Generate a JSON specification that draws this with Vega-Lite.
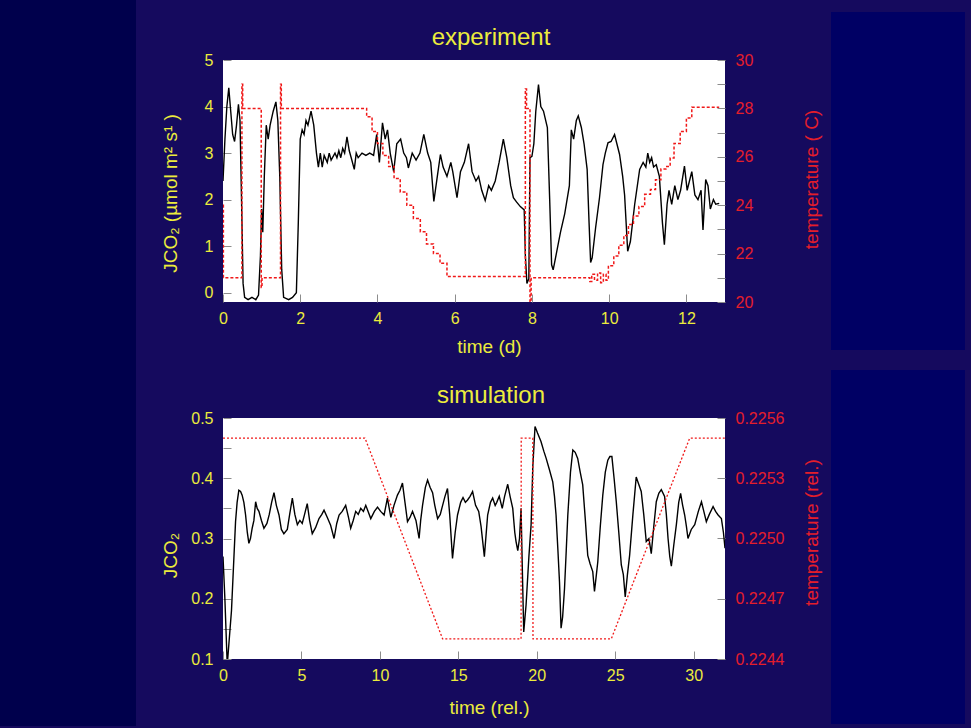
{
  "$schema": "https://vega.github.io/schema/vega-lite/v6.json",
  "autosize": {"type": "none"},
  "padding": {"left": 60, "top": 60, "right": 911, "bottom": 668},
  "background": "#150a5e",
  "bounds": "flush",
  "align": "each",
  "columns": 3,
  "spacing": {"row": 116, "column": 154},
  "datasets": {
    "expJ": [
      {"t":0.0,"J":2.4},{"t":0.05,"J":3.3},{"t":0.1,"J":4.0},{"t":0.15,"J":4.4},{"t":0.2,"J":3.9},{"t":0.25,"J":3.4},{"t":0.3,"J":3.25},{"t":0.35,"J":3.6},{"t":0.4,"J":4.05},{"t":0.44,"J":3.7},{"t":0.48,"J":2.0},{"t":0.52,"J":0.2},{"t":0.56,"J":-0.1},{"t":0.65,"J":-0.15},{"t":0.75,"J":-0.1},{"t":0.85,"J":-0.15},{"t":0.92,"J":-0.05},{"t":0.97,"J":0.8},{"t":1.0,"J":1.8},{"t":1.03,"J":1.3},{"t":1.07,"J":2.5},{"t":1.12,"J":3.6},{"t":1.17,"J":3.3},{"t":1.22,"J":3.6},{"t":1.3,"J":3.9},{"t":1.37,"J":4.1},{"t":1.42,"J":3.7},{"t":1.47,"J":2.5},{"t":1.52,"J":0.5},{"t":1.57,"J":-0.1},{"t":1.7,"J":-0.15},{"t":1.8,"J":-0.1},{"t":1.9,"J":0.0},{"t":1.95,"J":1.5},{"t":2.0,"J":3.3},{"t":2.05,"J":3.5},{"t":2.1,"J":3.4},{"t":2.15,"J":3.7},{"t":2.2,"J":3.6},{"t":2.28,"J":3.9},{"t":2.35,"J":3.6},{"t":2.42,"J":3.0},{"t":2.47,"J":2.7},{"t":2.52,"J":3.0},{"t":2.57,"J":2.7},{"t":2.62,"J":2.95},{"t":2.7,"J":2.8},{"t":2.75,"J":3.0},{"t":2.8,"J":2.85},{"t":2.9,"J":3.0},{"t":2.95,"J":2.9},{"t":3.0,"J":3.05},{"t":3.05,"J":2.9},{"t":3.1,"J":3.1},{"t":3.15,"J":3.0},{"t":3.21,"J":3.35},{"t":3.27,"J":3.05},{"t":3.32,"J":2.9},{"t":3.4,"J":2.65},{"t":3.45,"J":3.0},{"t":3.5,"J":2.9},{"t":3.6,"J":3.0},{"t":3.7,"J":2.95},{"t":3.8,"J":3.0},{"t":3.9,"J":2.95},{"t":3.98,"J":3.4},{"t":4.05,"J":2.8},{"t":4.13,"J":3.65},{"t":4.2,"J":3.3},{"t":4.26,"J":3.5},{"t":4.33,"J":3.0},{"t":4.42,"J":2.6},{"t":4.5,"J":3.2},{"t":4.6,"J":3.3},{"t":4.68,"J":3.0},{"t":4.75,"J":2.9},{"t":4.8,"J":2.68},{"t":4.9,"J":3.0},{"t":5.0,"J":2.85},{"t":5.1,"J":3.0},{"t":5.2,"J":3.4},{"t":5.3,"J":3.0},{"t":5.38,"J":2.8},{"t":5.46,"J":1.96},{"t":5.55,"J":2.5},{"t":5.63,"J":2.97},{"t":5.7,"J":2.7},{"t":5.8,"J":2.5},{"t":5.9,"J":2.8},{"t":5.95,"J":2.6},{"t":6.06,"J":2.04},{"t":6.15,"J":2.6},{"t":6.25,"J":2.8},{"t":6.36,"J":3.2},{"t":6.45,"J":2.6},{"t":6.55,"J":2.4},{"t":6.62,"J":2.5},{"t":6.7,"J":2.2},{"t":6.79,"J":1.98},{"t":6.88,"J":2.3},{"t":6.95,"J":2.2},{"t":7.05,"J":2.4},{"t":7.15,"J":2.8},{"t":7.26,"J":3.3},{"t":7.35,"J":2.9},{"t":7.45,"J":2.3},{"t":7.52,"J":2.04},{"t":7.6,"J":1.95},{"t":7.7,"J":1.85},{"t":7.8,"J":1.78},{"t":7.83,"J":0.8},{"t":7.87,"J":0.2},{"t":7.92,"J":0.3},{"t":7.95,"J":2.9},{"t":8.0,"J":2.93},{"t":8.05,"J":3.2},{"t":8.1,"J":3.9},{"t":8.17,"J":4.47},{"t":8.23,"J":4.0},{"t":8.3,"J":3.9},{"t":8.4,"J":3.55},{"t":8.46,"J":2.0},{"t":8.51,"J":0.6},{"t":8.55,"J":0.49},{"t":8.6,"J":0.7},{"t":8.74,"J":1.3},{"t":8.85,"J":1.7},{"t":8.97,"J":2.3},{"t":9.02,"J":3.5},{"t":9.08,"J":3.3},{"t":9.15,"J":3.7},{"t":9.2,"J":3.8},{"t":9.28,"J":3.55},{"t":9.35,"J":3.2},{"t":9.43,"J":2.65},{"t":9.48,"J":1.5},{"t":9.52,"J":0.65},{"t":9.56,"J":0.75},{"t":9.65,"J":1.4},{"t":9.75,"J":2.04},{"t":9.84,"J":2.75},{"t":9.9,"J":3.0},{"t":9.97,"J":3.22},{"t":10.05,"J":3.25},{"t":10.14,"J":3.4},{"t":10.2,"J":3.2},{"t":10.27,"J":2.97},{"t":10.35,"J":2.5},{"t":10.4,"J":2.1},{"t":10.48,"J":0.89},{"t":10.55,"J":1.1},{"t":10.66,"J":1.89},{"t":10.79,"J":2.65},{"t":10.88,"J":2.8},{"t":10.95,"J":2.7},{"t":11.0,"J":3.0},{"t":11.05,"J":2.8},{"t":11.1,"J":2.9},{"t":11.15,"J":2.7},{"t":11.22,"J":2.75},{"t":11.3,"J":2.5},{"t":11.38,"J":1.5},{"t":11.43,"J":1.03},{"t":11.5,"J":1.9},{"t":11.55,"J":2.2},{"t":11.62,"J":1.9},{"t":11.7,"J":2.3},{"t":11.78,"J":2.0},{"t":11.85,"J":2.2},{"t":11.95,"J":2.72},{"t":12.02,"J":2.2},{"t":12.08,"J":2.4},{"t":12.14,"J":2.6},{"t":12.22,"J":2.1},{"t":12.3,"J":2.0},{"t":12.38,"J":2.2},{"t":12.43,"J":1.35},{"t":12.5,"J":2.43},{"t":12.56,"J":2.3},{"t":12.62,"J":1.8},{"t":12.7,"J":2.0},{"t":12.76,"J":1.9},{"t":12.85,"J":1.92}
    ],
    "expT": [
      {"t":0,"T":24.0},{"t":0.01,"T":21.0},{"t":0.49,"T":29.0},{"t":0.51,"T":28.0},{"t":0.99,"T":20.6},{"t":1.01,"T":21.0},{"t":1.49,"T":29.0},{"t":1.51,"T":28.0},{"t":3.72,"T":27.65},{"t":3.86,"T":27.05},{"t":4.0,"T":26.55},{"t":4.14,"T":26.05},{"t":4.29,"T":25.6},{"t":4.43,"T":25.1},{"t":4.59,"T":24.55},{"t":4.76,"T":24.0},{"t":4.93,"T":23.45},{"t":5.11,"T":22.9},{"t":5.27,"T":22.4},{"t":5.45,"T":22.0},{"t":5.62,"T":21.6},{"t":5.8,"T":21.05},{"t":7.83,"T":28.8},{"t":7.86,"T":28.0},{"t":7.95,"T":20.0},{"t":7.98,"T":21.0},{"t":9.5,"T":20.85},{"t":9.55,"T":21.15},{"t":9.62,"T":20.9},{"t":9.7,"T":21.2},{"t":9.78,"T":20.8},{"t":9.85,"T":21.15},{"t":9.92,"T":20.9},{"t":9.98,"T":21.5},{"t":10.12,"T":21.9},{"t":10.25,"T":22.35},{"t":10.38,"T":22.75},{"t":10.5,"T":23.2},{"t":10.63,"T":23.55},{"t":10.77,"T":23.95},{"t":10.92,"T":24.45},{"t":11.07,"T":24.65},{"t":11.2,"T":25.05},{"t":11.34,"T":25.5},{"t":11.47,"T":25.6},{"t":11.58,"T":25.95},{"t":11.68,"T":26.55},{"t":11.84,"T":27.05},{"t":12.0,"T":27.6},{"t":12.14,"T":28.05},{"t":12.85,"T":28.05}
    ],
    "simJ": [
      {"t":0,"J":0.27},{"t":0.12,"J":0.2},{"t":0.27,"J":0.09},{"t":0.54,"J":0.18},{"t":0.8,"J":0.328},{"t":0.9,"J":0.36},{"t":1.01,"J":0.38},{"t":1.12,"J":0.378},{"t":1.22,"J":0.372},{"t":1.33,"J":0.36},{"t":1.44,"J":0.339},{"t":1.55,"J":0.31},{"t":1.65,"J":0.292},{"t":1.75,"J":0.3},{"t":1.86,"J":0.317},{"t":1.97,"J":0.33},{"t":2.08,"J":0.361},{"t":2.18,"J":0.35},{"t":2.29,"J":0.345},{"t":2.45,"J":0.33},{"t":2.61,"J":0.317},{"t":2.8,"J":0.325},{"t":2.95,"J":0.34},{"t":3.1,"J":0.36},{"t":3.25,"J":0.376},{"t":3.4,"J":0.355},{"t":3.57,"J":0.339},{"t":3.72,"J":0.315},{"t":3.88,"J":0.308},{"t":4.1,"J":0.315},{"t":4.25,"J":0.34},{"t":4.42,"J":0.367},{"t":4.58,"J":0.34},{"t":4.74,"J":0.323},{"t":4.9,"J":0.33},{"t":5.05,"J":0.325},{"t":5.2,"J":0.34},{"t":5.37,"J":0.358},{"t":5.52,"J":0.33},{"t":5.69,"J":0.308},{"t":5.9,"J":0.318},{"t":6.12,"J":0.333},{"t":6.3,"J":0.34},{"t":6.44,"J":0.347},{"t":6.65,"J":0.335},{"t":6.86,"J":0.322},{"t":7.08,"J":0.3},{"t":7.25,"J":0.325},{"t":7.4,"J":0.339},{"t":7.6,"J":0.345},{"t":7.82,"J":0.355},{"t":8.0,"J":0.335},{"t":8.14,"J":0.317},{"t":8.3,"J":0.33},{"t":8.46,"J":0.345},{"t":8.62,"J":0.34},{"t":8.78,"J":0.35},{"t":8.95,"J":0.345},{"t":9.1,"J":0.355},{"t":9.25,"J":0.345},{"t":9.42,"J":0.333},{"t":9.65,"J":0.345},{"t":9.85,"J":0.352},{"t":10.05,"J":0.345},{"t":10.27,"J":0.339},{"t":10.48,"J":0.367},{"t":10.7,"J":0.335},{"t":10.9,"J":0.355},{"t":11.12,"J":0.372},{"t":11.28,"J":0.38},{"t":11.44,"J":0.392},{"t":11.6,"J":0.36},{"t":11.76,"J":0.328},{"t":11.92,"J":0.335},{"t":12.08,"J":0.345},{"t":12.3,"J":0.33},{"t":12.5,"J":0.3},{"t":12.6,"J":0.33},{"t":12.72,"J":0.355},{"t":12.9,"J":0.385},{"t":13.04,"J":0.397},{"t":13.2,"J":0.385},{"t":13.36,"J":0.376},{"t":13.5,"J":0.355},{"t":13.68,"J":0.333},{"t":13.85,"J":0.34},{"t":14.0,"J":0.355},{"t":14.15,"J":0.37},{"t":14.31,"J":0.383},{"t":14.45,"J":0.34},{"t":14.63,"J":0.267},{"t":14.8,"J":0.31},{"t":14.95,"J":0.339},{"t":15.15,"J":0.36},{"t":15.3,"J":0.368},{"t":15.45,"J":0.36},{"t":15.59,"J":0.364},{"t":15.75,"J":0.37},{"t":15.91,"J":0.378},{"t":16.1,"J":0.355},{"t":16.3,"J":0.345},{"t":16.45,"J":0.32},{"t":16.66,"J":0.27},{"t":16.87,"J":0.339},{"t":17.05,"J":0.36},{"t":17.19,"J":0.367},{"t":17.35,"J":0.355},{"t":17.45,"J":0.36},{"t":17.61,"J":0.37},{"t":17.8,"J":0.35},{"t":17.95,"J":0.37},{"t":18.15,"J":0.39},{"t":18.3,"J":0.37},{"t":18.47,"J":0.35},{"t":18.6,"J":0.31},{"t":18.68,"J":0.295},{"t":18.79,"J":0.28},{"t":18.9,"J":0.3},{"t":19.0,"J":0.35},{"t":19.08,"J":0.25},{"t":19.17,"J":0.145},{"t":19.32,"J":0.19},{"t":19.5,"J":0.27},{"t":19.64,"J":0.323},{"t":19.75,"J":0.42},{"t":19.89,"J":0.486},{"t":20.05,"J":0.475},{"t":20.27,"J":0.461},{"t":20.45,"J":0.445},{"t":20.6,"J":0.433},{"t":20.8,"J":0.415},{"t":21.02,"J":0.394},{"t":21.13,"J":0.37},{"t":21.23,"J":0.339},{"t":21.35,"J":0.28},{"t":21.45,"J":0.228},{"t":21.55,"J":0.151},{"t":21.65,"J":0.17},{"t":21.77,"J":0.217},{"t":21.88,"J":0.28},{"t":21.98,"J":0.339},{"t":22.15,"J":0.41},{"t":22.3,"J":0.447},{"t":22.45,"J":0.443},{"t":22.61,"J":0.433},{"t":22.77,"J":0.41},{"t":22.93,"J":0.389},{"t":23.1,"J":0.33},{"t":23.25,"J":0.272},{"t":23.4,"J":0.258},{"t":23.57,"J":0.245},{"t":23.68,"J":0.212},{"t":23.78,"J":0.235},{"t":23.89,"J":0.261},{"t":24.05,"J":0.32},{"t":24.21,"J":0.372},{"t":24.37,"J":0.41},{"t":24.53,"J":0.43},{"t":24.66,"J":0.436},{"t":24.79,"J":0.436},{"t":24.93,"J":0.4},{"t":25.07,"J":0.361},{"t":25.23,"J":0.31},{"t":25.39,"J":0.256},{"t":25.52,"J":0.24},{"t":25.64,"J":0.203},{"t":25.78,"J":0.24},{"t":25.92,"J":0.272},{"t":26.13,"J":0.34},{"t":26.34,"J":0.402},{"t":26.5,"J":0.39},{"t":26.66,"J":0.378},{"t":26.82,"J":0.34},{"t":26.98,"J":0.295},{"t":27.15,"J":0.3},{"t":27.3,"J":0.275},{"t":27.46,"J":0.32},{"t":27.62,"J":0.361},{"t":27.78,"J":0.375},{"t":27.94,"J":0.381},{"t":28.15,"J":0.37},{"t":28.26,"J":0.34},{"t":28.37,"J":0.3},{"t":28.48,"J":0.27},{"t":28.58,"J":0.254},{"t":28.74,"J":0.29},{"t":28.9,"J":0.323},{"t":29.05,"J":0.36},{"t":29.17,"J":0.375},{"t":29.3,"J":0.355},{"t":29.43,"J":0.339},{"t":29.54,"J":0.32},{"t":29.64,"J":0.3},{"t":29.85,"J":0.315},{"t":30.07,"J":0.323},{"t":30.3,"J":0.345},{"t":30.5,"J":0.361},{"t":30.65,"J":0.345},{"t":30.81,"J":0.328},{"t":31.0,"J":0.34},{"t":31.24,"J":0.353},{"t":31.4,"J":0.345},{"t":31.56,"J":0.339},{"t":31.77,"J":0.333},{"t":31.9,"J":0.31},{"t":32.0,"J":0.284}
    ],
    "simT": [
      {"t":0,"T":0.2255},{"t":9.05,"T":0.2255},{"t":14.0,"T":0.2245},{"t":19.0,"T":0.2245},{"t":19.01,"T":0.2255},{"t":19.75,"T":0.2255},{"t":19.76,"T":0.2245},{"t":24.75,"T":0.2245},{"t":29.75,"T":0.2255},{"t":32,"T":0.2255}
    ],
    "none": []
  },
  "concat": [
    {
      "width": 9, "height": 242,
      "data": {"name": "none"},
      "mark": {"type": "rect"},
      "encoding": {},
      "view": {"fill": "#00004c", "stroke": "#00004c", "strokeWidth": 134}
    },
    {
      "width": 502,
      "height": 242,
      "title": {"text": "experiment", "fontSize": 24, "color": "#ecec3c", "fontWeight": "normal", "anchor": "middle", "frame": "bounds", "offset": -17, "baseline": "alphabetic"},
      "layer": [
        {
          "data": {"name": "expJ"},
          "mark": {"type": "line", "color": "#000000", "strokeWidth": 1.4, "clip": true},
          "encoding": {
            "x": {"field": "t", "type": "quantitative", "scale": {"domain": [0, 13], "nice": false},
                  "axis": {"values": [0, 2, 4, 6, 8, 10, 12], "format": "d", "labelColor": "#ecec3c", "labelPadding": 16, "title": "time (d)", "titleColor": "#ecec3c", "titleX": 266, "titleY": 50, "titleBaseline": "alphabetic", "titleAlign": "center"}},
            "y": {"field": "J", "type": "quantitative", "scale": {"domain": [-0.2, 5], "nice": false, "zero": false},
                  "axis": {"values": [0, 1, 2, 3, 4, 5], "format": "d", "labelColor": "#ecec3c", "labelPadding": 18, "title": "JCO₂  (µmol m²  s¹  )", "titleColor": "#ecec3c", "titleX": -53, "titleY": 133, "titleBaseline": "middle", "titleAlign": "center", "titleAngle": -90}}
          }
        },
        {
          "data": {"name": "expT"},
          "mark": {"type": "line", "color": "#f01818", "strokeWidth": 1.5, "strokeDash": [3, 2], "interpolate": "step-after", "clip": true},
          "encoding": {
            "x": {"field": "t", "type": "quantitative"},
            "y": {"field": "T", "type": "quantitative", "scale": {"domain": [20, 30], "nice": false, "zero": false},
                  "axis": {"orient": "right", "values": [20, 21, 22, 23, 24, 25, 26, 27, 28, 29, 30], "labelExpr": "datum.value % 2 == 0 ? datum.label : ''", "labelColor": "#e41e2b", "labelPadding": 18, "title": "temperature ( C)", "titleColor": "#e41e2b", "titleX": 86, "titleY": 119, "titleBaseline": "middle", "titleAlign": "center", "titleAngle": -90}}
          }
        }
      ],
      "resolve": {"scale": {"y": "independent"}}
    },
    {
      "width": 38, "height": 242,
      "data": {"name": "none"},
      "mark": {"type": "rect"},
      "encoding": {},
      "view": {"fill": "#000064", "stroke": "#000064", "strokeWidth": 96}
    },
    {
      "width": 9, "height": 241,
      "data": {"name": "none"},
      "mark": {"type": "rect"},
      "encoding": {},
      "view": {"fill": "#00004c", "stroke": "#00004c", "strokeWidth": 134}
    },
    {
      "width": 502,
      "height": 241,
      "title": {"text": "simulation", "fontSize": 24, "color": "#ecec3c", "fontWeight": "normal", "anchor": "middle", "frame": "bounds", "offset": -17, "baseline": "alphabetic"},
      "layer": [
        {
          "data": {"name": "simJ"},
          "mark": {"type": "line", "color": "#000000", "strokeWidth": 1.4, "clip": true},
          "encoding": {
            "x": {"field": "t", "type": "quantitative", "scale": {"domain": [0, 32], "nice": false},
                  "axis": {"values": [0, 5, 10, 15, 20, 25, 30], "format": "d", "labelColor": "#ecec3c", "labelPadding": 16, "title": "time (rel.)", "titleColor": "#ecec3c", "titleX": 266, "titleY": 54, "titleBaseline": "alphabetic", "titleAlign": "center"}},
            "y": {"field": "J", "type": "quantitative", "scale": {"domain": [0.1, 0.5], "nice": false, "zero": false},
                  "axis": {"values": [0.1, 0.15, 0.2, 0.25, 0.3, 0.35, 0.4, 0.45, 0.5], "labelExpr": "abs(datum.value * 10 - round(datum.value * 10)) < 0.001 ? format(datum.value, '.1f') : ''", "labelColor": "#ecec3c", "labelPadding": 18, "title": "JCO₂", "titleColor": "#ecec3c", "titleX": -53, "titleY": 137, "titleBaseline": "middle", "titleAlign": "center", "titleAngle": -90}}
          }
        },
        {
          "data": {"name": "simT"},
          "mark": {"type": "line", "color": "#f01818", "strokeWidth": 1.3, "strokeDash": [2, 2], "clip": true},
          "encoding": {
            "x": {"field": "t", "type": "quantitative"},
            "y": {"field": "T", "type": "quantitative", "scale": {"domain": [0.2244, 0.2256], "nice": false, "zero": false},
                  "axis": {"orient": "right", "values": [0.2244, 0.2247, 0.225, 0.2253, 0.2256], "format": ".4f", "labelColor": "#e41e2b", "labelPadding": 18, "title": "temperature (rel.)", "titleColor": "#e41e2b", "titleX": 86, "titleY": 114, "titleBaseline": "middle", "titleAlign": "center", "titleAngle": -90}}
          }
        }
      ],
      "resolve": {"scale": {"y": "independent"}}
    },
    {
      "width": 38, "height": 258,
      "data": {"name": "none"},
      "mark": {"type": "rect"},
      "encoding": {},
      "view": {"fill": "#000064", "stroke": "#000064", "strokeWidth": 96}
    }
  ],
  "config": {
    "font": "Liberation Sans",
    "view": {"stroke": null, "fill": "#ffffff"},
    "axis": {"grid": false, "domain": false, "tickColor": "#8c8c8c", "tickSize": -8, "tickWidth": 1, "labelFontSize": 16, "titleFontSize": 19, "titleFontWeight": "normal", "labelOverlap": false, "labelFlush": false}
  }
}
